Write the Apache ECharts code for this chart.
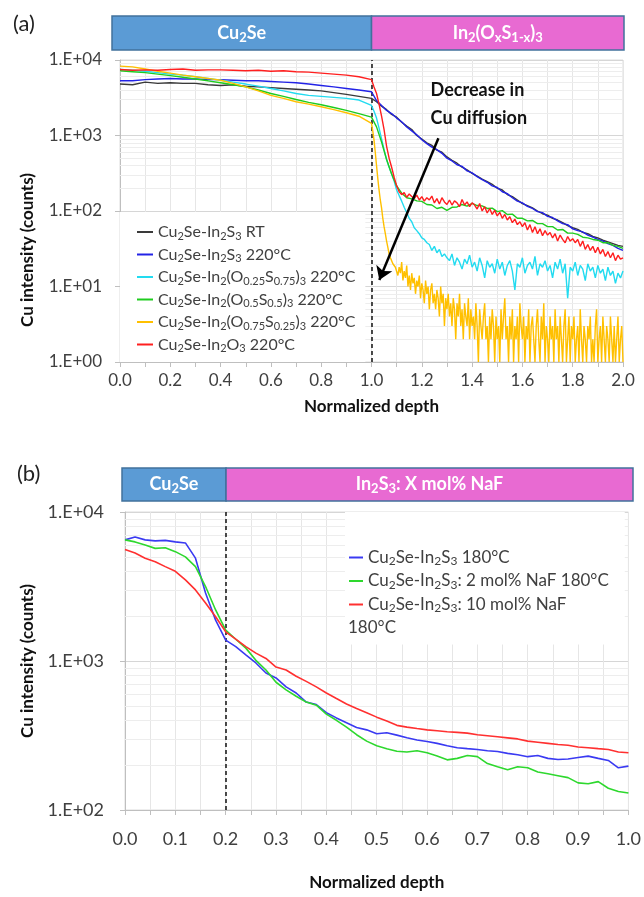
<!DOCTYPE html>
<html>
<head>
<meta charset="utf-8">
<script src="https://cdn.jsdelivr.net/npm/echarts@6/dist/echarts.min.js"></script>
<style>
html, body { margin: 0; padding: 0; background: #fff; }
#main { width: 644px; height: 897px; }
</style>
</head>
<body>
<div id="main"></div>
<script>
// Cu depth profiles, panel (a) and panel (b)
var FONT = 'Lato, "Open Sans", sans-serif';

function steps(start, step, n) {
    var out = [];
    for (var i = 0; i < n; i++) out.push(Math.round((start + i * step) * 1000) / 1000);
    return out;
}

// ---- panel (a) ----
var depthHeadA = [0, 0.05, 0.1, 0.15, 0.2, 0.25, 0.3, 0.35, 0.4, 0.45, 0.5, 0.55, 0.6, 0.65, 0.7, 0.75, 0.8, 0.85, 0.9, 0.95, 1.0];
var depthTailA = steps(1.02, 0.02, 50);     // 1.02 .. 2.00
var depthFineA = steps(1.01, 0.01, 100);    // 1.01 .. 2.00
var depthFinerA = steps(1.005, 0.005, 200); // 1.005 .. 2.00

var namesA = [
    'Cu_{2}Se-In_{2}S_{3} RT',
    'Cu_{2}Se-In_{2}S_{3} 220°C',
    'Cu_{2}Se-In_{2}(O_{0.25}S_{0.75})_{3} 220°C',
    'Cu_{2}Se-In_{2}(O_{0.5}S_{0.5})_{3} 220°C',
    'Cu_{2}Se-In_{2}(O_{0.75}S_{0.25})_{3} 220°C',
    'Cu_{2}Se-In_{2}O_{3} 220°C'
];
var colorsA = ['#3a3a3a', '#2323e6', '#22dbf0', '#1fcc1f', '#ffc000', '#ff1f1f'];

var rtHeadA = [4800, 4700, 5100, 4900, 5000, 4900, 4900, 4700, 4600, 4700, 4500, 4400, 4300, 4200, 4100, 4000, 3900, 3700, 3500, 3300, 3100];
var rtTailA = [2800, 2450, 2200, 1900, 1750, 1500, 1330, 1200, 1000, 900,
    800, 740, 640, 600, 520, 470, 430, 380, 350, 315,
    290, 265, 245, 225, 200, 190, 165, 155, 140, 125,
    118, 110, 100, 92, 88, 80, 76, 70, 64, 60,
    57, 52, 50, 46, 44, 41, 39, 37, 35, 34];

var s220HeadA = [5300, 5300, 5500, 5600, 5700, 5600, 5600, 5500, 5500, 5400, 5300, 5300, 5200, 5100, 5000, 4800, 4600, 4400, 4200, 4000, 3800];
var s220TailA = [2900, 2500, 2150, 1950, 1700, 1520, 1300, 1150, 1020, 880,
    780, 700, 650, 580, 500, 460, 410, 390, 340, 320,
    285, 260, 240, 215, 205, 180, 170, 150, 135, 128,
    115, 108, 98, 95, 85, 82, 74, 68, 66, 58,
    55, 53, 48, 45, 42, 40, 37, 35, 32, 30];

var o25HeadA = [7500, 7300, 7100, 6800, 6500, 6300, 6000, 5700, 5400, 5100, 4800, 4500, 4200, 3900, 3600, 3400, 3300, 3200, 3100, 2950, 2500];
var o25TailA = [2100, 1700, 1250, 900, 650, 480, 380, 310, 250, 190,
    160, 135, 112, 95, 80, 72, 60, 55, 50, 44,
    42, 38, 36, 30, 34, 28, 31, 25, 27, 24,
    22, 27, 19, 24, 21, 17, 23, 20, 26, 18,
    21, 16, 24, 19, 13, 22, 18, 20, 15, 23,
    17, 21, 14, 19, 22, 16, 9, 20, 18, 24,
    15, 19, 21, 17, 25, 14, 20, 18, 22, 16,
    19, 13, 21, 17, 23, 15, 20, 7, 18, 16,
    21, 14, 19, 17, 12, 20, 16, 18, 13, 19,
    15, 17, 12, 18, 14, 16, 11, 15, 13, 16];

var o50HeadA = [7200, 7000, 6800, 6500, 6200, 5900, 5600, 5300, 5000, 4700, 4400, 4000, 3600, 3300, 3000, 2750, 2550, 2350, 2150, 1950, 1750];
var o50TailA = [1300, 820, 480, 310, 215, 172, 150, 145, 136, 134,
    122, 120, 108, 112, 102, 112, 113, 122, 116, 126,
    118, 117, 108, 109, 98, 101, 90, 91, 80, 80,
    74, 75, 68, 68, 62, 62, 56, 57, 51, 51,
    49, 45, 44, 42, 41, 38, 38, 35, 34, 32];

var o75HeadA = [8300, 8100, 7600, 7100, 6700, 6300, 6000, 5700, 5400, 4900, 4400, 3900, 3400, 3100, 2800, 2600, 2400, 2200, 2000, 1800, 1450];
var o75TailA = [1150, 870, 600, 400, 270, 190, 140, 110, 80, 62,
    50, 40, 33, 27, 24, 22, 20, 19, 18, 17,
    14, 18, 15, 21, 12, 16, 13, 19, 10, 14,
    9, 15, 11, 13, 8, 12, 10, 14, 7, 11,
    9, 6, 12, 8, 10, 5, 9, 11, 6, 8,
    5, 9, 7, 4, 10, 6, 8, 3, 7, 5,
    8, 4, 6, 3, 7, 5, 2, 6, 4, 8,
    3, 5, 2, 6, 4, 3, 7, 2, 5, 3,
    4, 2, 6, 3, 1, 5, 3, 2, 4, 6,
    2, 3, 1, 4, 2, 5, 3, 1, 4, 2,
    3, 1, 5, 2, 4, 7, 2, 3, 1, 4,
    2, 5, 1, 3, 2, 4, 1, 6, 3, 2,
    4, 1, 3, 2, 5, 1, 3, 4, 2, 1,
    3, 5, 2, 1, 4, 2, 6, 1, 3, 2,
    1, 4, 2, 3, 1, 5, 2, 3, 1, 4,
    2, 1, 3, 5, 1, 2, 4, 1, 3, 2,
    4, 1, 2, 3, 1, 5, 2, 1, 3, 2,
    1, 3, 2, 4, 1, 2, 1, 3, 5, 1,
    2, 3, 1, 4, 2, 1, 3, 2, 1, 4,
    2, 1, 3, 1, 2, 4, 1, 2, 3, 1];

var o100HeadA = [7500, 7300, 7400, 7300, 7500, 7600, 7300, 7400, 7400, 7300, 7200, 7300, 7100, 7200, 7000, 6900, 6700, 6500, 6300, 6000, 5500];
var o100TailA = [4400, 3600, 2600, 1800, 1200, 720, 500, 380, 280, 215,
    180, 165, 175, 152, 168, 156, 146, 162, 140, 155,
    135, 150, 140, 158, 128, 146, 124, 150, 132, 122,
    140, 120, 136, 128, 114, 142, 120, 132, 114, 128,
    120, 106, 126, 100, 114, 94, 108, 90, 102, 86,
    96, 80, 90, 76, 84, 70, 78, 66, 72, 62,
    70, 56, 66, 52, 62, 50, 58, 47, 55, 48,
    52, 44, 50, 40, 48, 42, 38, 46, 40, 43,
    38, 42, 34, 40, 31, 36, 30, 34, 28, 33,
    27, 31, 25, 29, 24, 28, 22, 26, 23, 24];

var headsA = [rtHeadA, s220HeadA, o25HeadA, o50HeadA, o75HeadA, o100HeadA];
var tailsA = [rtTailA, s220TailA, o25TailA, o50TailA, o75TailA, o100TailA];
var tailDepthsA = [depthTailA, depthTailA, depthFineA, depthTailA, depthFinerA, depthFineA];

var bandEdgesA = [-0.032, 1.0, 2.004];
var bandNamesA = ['Cu_{2}Se', 'In_{2}(O_{x}S_{1-x})_{3}'];
var boundaryA = 1.0;
var decadesA = [1, 10, 100, 1000];
var noteAtA = [1.233, 2600];
var arrowFromA = [1.266, 918];
var arrowToA = [1.031, 12.2];

// ---- panel (b) ----
var depthB = steps(0, 0.02, 51);
var namesB = [
    'Cu_{2}Se-In_{2}S_{3} 180°C',
    'Cu_{2}Se-In_{2}S_{3}: 2 mol% NaF 180°C',
    'Cu_{2}Se-In_{2}S_{3}: 10 mol% NaF'
];
var colorsB = ['#3a3af2', '#2ed82e', '#ff3030'];
var naf0B = [6500, 6800, 6500, 6400, 6450, 6300, 6200, 4900, 2860, 1880,
    1380, 1250, 1100, 970, 830, 770, 670, 610, 530, 510,
    450, 415, 385, 358, 345, 325, 330, 318, 305, 295,
    288, 280, 270, 262, 258, 255, 250, 247, 240, 235,
    228, 232, 222, 218, 220, 225, 230, 222, 215, 192, 197];
var naf2B = [6500, 6300, 6000, 5700, 5750, 5420, 5000, 4300, 3160, 2200,
    1610, 1400, 1220, 1010, 870, 720, 640, 580, 530, 505,
    440, 400, 360, 320, 290, 270, 258, 248, 245, 250,
    242, 230, 217, 222, 232, 228, 205, 195, 186, 195,
    192, 180, 175, 170, 165, 152, 150, 155, 140, 133, 130];
var naf10B = [5600, 5300, 4900, 4640, 4300, 4000, 3500, 3000, 2450, 1980,
    1570, 1400, 1250, 1130, 1040, 910, 870, 790, 730, 670,
    610, 560, 515, 480, 450, 420, 395, 370, 360, 352,
    345, 340, 335, 332, 328, 320, 315, 310, 305, 300,
    290, 285, 280, 275, 272, 265, 262, 258, 255, 245, 242];
var valuesB = [naf0B, naf2B, naf10B];
var bandEdgesB = [-0.006, 0.2, 1.006];
var bandNamesB = ['Cu_{2}Se', 'In_{2}S_{3}: X mol% NaF'];
var boundaryB = 0.2;
var decadesB = [100, 1000];
var wrapTextB = '180°C';

var minorStepsA = [2, 3, 4, 5, 6, 7, 8, 9];
var bandColors = ['#5b9bd5', '#e86ad2'];

// 'Cu_{2}Se' -> '{n|Cu}{s|2}{n|Se}'
function richText(t) {
    return t.split(/(_\{[^}]*\})/).filter(function (p) { return p; }).map(function (p) {
        return p.indexOf('_{') === 0 ? '{s|' + p.slice(2, -1) + '}' : '{n|' + p + '}';
    }).join('');
}

function minorLines(decades) {
    var out = [];
    decades.forEach(function (d) {
        minorStepsA.forEach(function (m) { out.push({ yAxis: d * m }); });
    });
    return out;
}

function expLabel(v) {
    var e = Math.round(Math.log(v) / Math.LN10);
    return '1.E+' + (e < 10 ? '0' : '') + e;
}

var headRich = {
    n: { fill: '#fff', fontSize: 18, fontWeight: 'bold', fontFamily: FONT },
    s: { fill: '#fff', fontSize: 13, fontWeight: 'bold', fontFamily: FONT, padding: [9, 0, 0, 0] }
};

function headerSeries(idx, edges, labels) {
    return {
        type: 'custom', xAxisIndex: idx, yAxisIndex: idx, silent: true, clip: false,
        data: labels.map(function (l, i) { return [edges[i], edges[i + 1]]; }),
        renderItem: function (params, api) {
            var a = api.coord([api.value(0), 1]);
            var b = api.coord([api.value(1), 0]);
            return {
                type: 'rect',
                shape: { x: a[0], y: a[1], width: b[0] - a[0], height: b[1] - a[1] },
                style: { fill: bandColors[params.dataIndex], stroke: '#41719c', lineWidth: 1.5 },
                textContent: { style: { text: richText(labels[params.dataIndex]), rich: headRich, fill: '#fff' } },
                textConfig: { position: 'inside' }
            };
        }
    };
}

function legendRich(size, sub) {
    return {
        n: { fontSize: size, fontFamily: FONT, color: '#404040' },
        s: { fontSize: sub, fontFamily: FONT, color: '#404040', padding: [8, 0, 0, 0] }
    };
}

var gridMarks = function (decades, boundary) {
    return {
        silent: true, z: 1, symbol: 'none', label: { show: false },
        lineStyle: { color: '#ededed', width: 1, type: 'solid' },
        emphasis: { disabled: true },
        data: minorLines(decades).concat([{ xAxis: boundary, lineStyle: { color: '#111', width: 1.5, type: [4, 3] } }])
    };
};

var series = [];
namesA.forEach(function (name, k) {
    var pts = depthHeadA.map(function (d, i) { return [d, headsA[k][i]]; })
        .concat(tailDepthsA[k].map(function (d, i) { return [d, tailsA[k][i]]; }));
    var s = {
        name: name, type: 'line', xAxisIndex: 0, yAxisIndex: 0,
        showSymbol: false, symbol: 'none', data: pts,
        lineStyle: { color: colorsA[k], width: 1.4 }, itemStyle: { color: colorsA[k] }
    };
    if (k === 0) s.markLine = gridMarks(decadesA, boundaryA);
    if (k === namesA.length - 1) {
        s.markLine = {
            silent: true, symbol: ['none', 'arrow'], symbolSize: 13, label: { show: false },
            lineStyle: { color: '#000', width: 2.5, type: 'solid' },
            data: [[{ coord: arrowFromA }, { coord: arrowToA }]]
        };
        s.markPoint = {
            silent: true, symbol: 'rect', symbolSize: 1, itemStyle: { color: 'rgba(0,0,0,0)' },
            label: {
                show: true, position: 'right', distance: 0, formatter: 'Decrease in\nCu diffusion',
                fontFamily: FONT, fontSize: 18, fontWeight: 'bold', color: '#111', lineHeight: 28
            },
            data: [{ coord: noteAtA }]
        };
    }
    series.push(s);
});
namesB.forEach(function (name, k) {
    var s = {
        name: name, type: 'line', xAxisIndex: 1, yAxisIndex: 1,
        showSymbol: false, symbol: 'none',
        data: depthB.map(function (d, i) { return [d, valuesB[k][i]]; }),
        lineStyle: { color: colorsB[k], width: 1.6 }, itemStyle: { color: colorsB[k] }
    };
    if (k === 0) s.markLine = gridMarks(decadesB, boundaryB);
    series.push(s);
});
series.push(headerSeries(2, bandEdgesA, bandNamesA));
series.push(headerSeries(3, bandEdgesB, bandNamesB));

var axisGray = '#bfbfbf';
function depthAxis(grid, max, interval, every, labelSize, margin, nameGap) {
    return {
        gridIndex: grid, type: 'value', min: 0, max: max, interval: interval,
        axisLine: { show: true, lineStyle: { color: axisGray } },
        axisTick: { show: true, length: 5, lineStyle: { color: axisGray } },
        axisLabel: {
            fontFamily: FONT, fontSize: labelSize, color: '#404040', margin: margin,
            formatter: function (v) { return Math.round(v / interval) % every ? '' : v.toFixed(1); }
        },
        splitLine: { show: true, lineStyle: { color: '#e6e6e6' } },
        name: 'Normalized depth', nameLocation: 'middle', nameGap: nameGap,
        nameTextStyle: { fontFamily: FONT, fontSize: 17, fontWeight: 'bold', color: '#111' }
    };
}
function countAxis(grid, min, labelSize, margin, nameGap, namePad) {
    return {
        gridIndex: grid, type: 'log', logBase: 10, min: min, max: 10000,
        axisLine: { show: true, lineStyle: { color: axisGray } },
        axisTick: { show: true, length: 5, lineStyle: { color: axisGray } },
        axisLabel: { fontFamily: FONT, fontSize: labelSize, color: '#404040', margin: margin, formatter: expLabel },
        splitLine: { show: true, lineStyle: { color: '#d6d6d6' } },
        name: 'Cu intensity (counts)', nameLocation: 'middle', nameGap: nameGap,
        nameTextStyle: { fontFamily: FONT, fontSize: 17, fontWeight: 'bold', color: '#111', padding: namePad }
    };
}

var option = {
    animation: false,
    backgroundColor: '#fff',
    title: [
        { text: '(a)', left: 8, top: 8, textStyle: { fontFamily: FONT, fontSize: 22, fontWeight: 'normal', color: '#222' } },
        { text: '(b)', left: 12, top: 458, textStyle: { fontFamily: FONT, fontSize: 22, fontWeight: 'normal', color: '#222' } }
    ],
    grid: [
        { left: 120, right: 21, top: 60, bottom: 535, show: true, borderColor: '#dcdcdc', borderWidth: 1 },
        { left: 125, right: 14, top: 512, bottom: 87, show: true, borderColor: '#dcdcdc', borderWidth: 1 },
        { left: 112, right: 20, top: 16, height: 34 },
        { left: 122, right: 11, top: 468, height: 33 }
    ],
    xAxis: [
        depthAxis(0, 2, 0.1, 2, 17, 10, 36),
        depthAxis(1, 1, 0.05, 2, 18, 20, 64),
        { gridIndex: 2, type: 'value', min: bandEdgesA[0], max: bandEdgesA[2], show: false },
        { gridIndex: 3, type: 'value', min: bandEdgesB[0], max: bandEdgesB[2], show: false }
    ],
    yAxis: [
        countAxis(0, 1, 17, 18, 84, [0, 78, 0, 0]),
        countAxis(1, 100, 18, 21, 89, 0),
        { gridIndex: 2, type: 'value', min: 0, max: 1, show: false },
        { gridIndex: 3, type: 'value', min: 0, max: 1, show: false }
    ],
    legend: [
        {
            data: namesA, orient: 'vertical', left: 120, top: 212,
            icon: 'rect', itemWidth: 16, itemHeight: 2, itemGap: 5,
            padding: [12, 10, 8, 17], backgroundColor: '#fff', selectedMode: false,
            formatter: richText, textStyle: { rich: legendRich(16, 11) }
        },
        {
            data: namesB, orient: 'vertical', left: 345, top: 512,
            icon: 'rect', itemWidth: 14, itemHeight: 2, itemGap: 5,
            padding: [37, 16, 30, 4], backgroundColor: '#fff', selectedMode: false,
            formatter: richText, textStyle: { rich: legendRich(17, 12) }
        }
    ],
    graphic: [{
        type: 'text', left: 348, top: 619, z: 100, silent: true,
        style: { text: wrapTextB, fontFamily: FONT, fontSize: 17, fill: '#404040' }
    }],
    series: series
};

var chart = echarts.init(document.getElementById('main'));
chart.setOption(option);
window.addEventListener('resize', function () { chart.resize(); });
</script>
</body>
</html>
